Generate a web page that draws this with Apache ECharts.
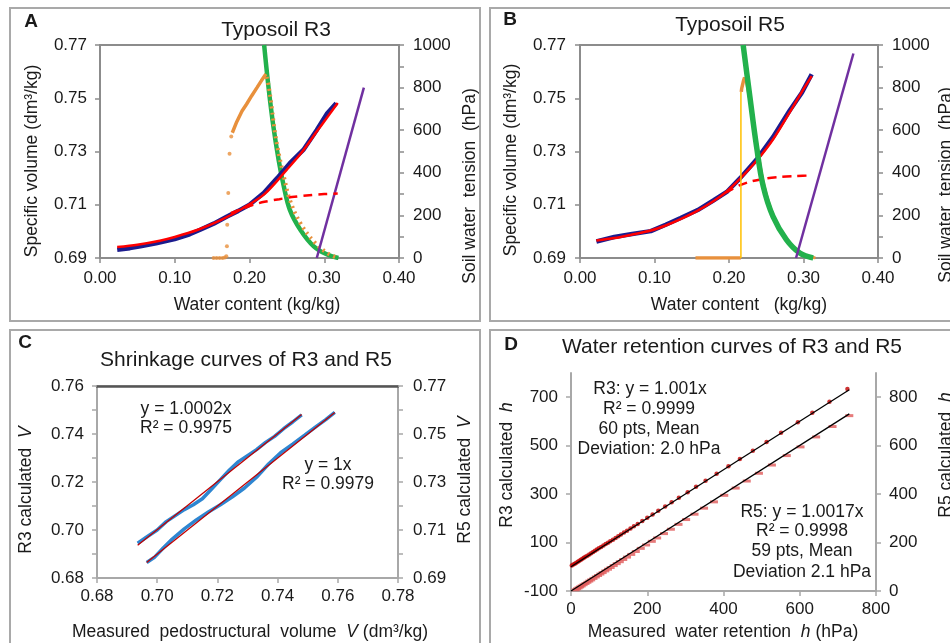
<!DOCTYPE html>
<html><head><meta charset="utf-8">
<script src="https://cdn.jsdelivr.net/npm/echarts@6/dist/echarts.min.js"></script>
<style>html,body{margin:0;padding:0;background:#fff}#c{width:950px;height:643px}</style>
</head><body><div id="c"></div>
<script>
// ---------- Panel A (Typosoil R3) ----------
const aShrinkX    = [0.023, 0.040, 0.054, 0.075, 0.100, 0.120, 0.134, 0.152, 0.170, 0.185, 0.200, 0.219, 0.237, 0.254, 0.272, 0.290, 0.304, 0.316];
const aShrinkMeas = [0.6931, 0.6937, 0.6944, 0.6955, 0.6971, 0.6989, 0.7006, 0.7029, 0.7056, 0.7077, 0.7100, 0.7144, 0.7200, 0.7256, 0.7306, 0.7381, 0.7444, 0.7481];
const aFitX       = [0.023, 0.050, 0.080, 0.100, 0.130, 0.160, 0.190, 0.220, 0.250, 0.270, 0.290, 0.305, 0.318];
const aFitV       = [0.6941, 0.6950, 0.6965, 0.6979, 0.7005, 0.7040, 0.7085, 0.7140, 0.7232, 0.7297, 0.7375, 0.7432, 0.7482];
const aDashX      = [0.175, 0.190, 0.205, 0.220, 0.240, 0.260, 0.280, 0.300, 0.318];
const aDashV      = [0.7068, 0.7085, 0.7100, 0.7111, 0.7121, 0.7130, 0.7136, 0.7140, 0.7142];
const aTensScatX  = [0.152, 0.156, 0.160, 0.164, 0.167, 0.169, 0.1698, 0.1702, 0.1716, 0.1733, 0.1756];
const aTensScatH  = [0, 0, 0, 0, 2, 8, 55, 156, 305, 489, 570];
const aTensUpX    = [0.177, 0.183, 0.190, 0.196, 0.203, 0.210, 0.216, 0.222];
const aTensUpH    = [588, 640, 690, 722, 762, 800, 833, 864];
const aTensDownX  = [0.223, 0.226, 0.230, 0.234, 0.240, 0.246, 0.254, 0.268, 0.286, 0.304, 0.319];
const aTensDownH  = [850, 800, 700, 590, 476, 382, 273, 164, 78, 23, 0];
const aGreenX     = [0.2196, 0.2254, 0.232, 0.239, 0.246, 0.254, 0.268, 0.286, 0.304, 0.319];
const aGreenH     = [1000, 803, 616, 460, 335, 226, 133, 55, 16, 0];
const aPurpleX    = [0.290, 0.353];
const aPurpleH    = [0, 800];

// ---------- Panel B (Typosoil R5) ----------
const bShrinkX    = [0.022, 0.046, 0.070, 0.095, 0.115, 0.135, 0.158, 0.179, 0.197, 0.215, 0.237, 0.259, 0.281, 0.298, 0.311];
const bShrinkMeas = [0.6962, 0.6979, 0.6990, 0.7001, 0.7025, 0.7050, 0.7080, 0.7116, 0.7148, 0.7200, 0.7270, 0.7354, 0.7452, 0.7522, 0.7590];
const bFitV       = [0.6966, 0.6975, 0.6988, 0.7003, 0.7022, 0.7046, 0.7078, 0.7113, 0.7150, 0.7198, 0.7265, 0.7345, 0.7445, 0.7525, 0.7583];
const bDashX      = [0.195, 0.205, 0.215, 0.230, 0.250, 0.270, 0.290, 0.311];
const bDashV      = [0.7145, 0.7160, 0.7174, 0.7188, 0.7199, 0.7205, 0.7208, 0.7210];
const bTensBaseX  = [0.155, 0.170, 0.185, 0.200, 0.216];
const bTensBaseH  = [0, 0, 0, 0, 0];
const bGoldX      = [0.216, 0.216];
const bGoldH      = [0, 780];
const bTensTopX   = [0.2165, 0.2170, 0.2180, 0.2190, 0.2200, 0.2210];
const bTensTopH   = [780, 795, 810, 825, 838, 848];
const bTensDownX  = [0.222, 0.229, 0.238, 0.247, 0.260, 0.278, 0.296, 0.316];
const bTensDownH  = [850, 720, 520, 340, 195, 86, 23, 0];
const bGreenX     = [0.219, 0.228, 0.237, 0.246, 0.259, 0.277, 0.295, 0.313];
const bGreenH     = [1000, 758, 523, 336, 195, 86, 23, 0];
const bPurpleX    = [0.290, 0.367];
const bPurpleH    = [0, 960];

// ---------- Panel C (shrinkage curves) ----------
const cR3Meas  = [0.6935, 0.697, 0.700, 0.703, 0.706, 0.709, 0.712, 0.715, 0.718, 0.721, 0.724, 0.727, 0.730, 0.733, 0.736, 0.739, 0.742, 0.745, 0.748];
const cR3Calc  = [0.6945, 0.6975, 0.7000, 0.7035, 0.7060, 0.7085, 0.7105, 0.7130, 0.7170, 0.7210, 0.7250, 0.7285, 0.7310, 0.7335, 0.7365, 0.7390, 0.7422, 0.7450, 0.7480];
const cR5Meas  = [0.6965, 0.699, 0.702, 0.705, 0.709, 0.713, 0.717, 0.721, 0.725, 0.729, 0.733, 0.737, 0.741, 0.745, 0.749, 0.753, 0.756, 0.759];
const cR5Calc  = [0.6965, 0.6985, 0.7025, 0.7062, 0.7105, 0.7142, 0.7175, 0.7205, 0.7238, 0.7275, 0.7320, 0.7375, 0.7422, 0.7458, 0.7495, 0.7533, 0.7560, 0.7590];
const cR3TrendX = [0.6935, 0.748];
const cR3TrendY = [0.6936, 0.7481];
const cR5TrendX = [0.6965, 0.759];
const cR5TrendY = [0.6965, 0.759];

// ---------- Panel D (water retention curves) ----------
const dR3Meas = [2, 6, 10, 14, 18, 22, 26, 30, 34, 38, 43, 48, 53, 58, 63, 68, 73, 79, 85, 91, 97, 103, 110, 117, 124, 131, 139, 147, 156, 165, 175, 187, 200, 214, 229, 247, 264, 283, 306, 328, 353, 382, 413, 443, 477, 513, 551, 595, 633, 678, 725];
const dR3Calc = [5, 9, 13, 17, 21, 25, 29, 33, 37, 41, 46, 51, 56, 61, 66, 71, 76, 82, 88, 94, 99, 105, 112, 119, 126, 133, 141, 149, 158, 167, 177, 189, 202, 216, 231, 249, 266, 285, 308, 330, 355, 384, 415, 445, 479, 515, 553, 597, 636, 681, 734];
const dR5Meas = [12, 16, 20, 24, 28, 33, 38, 43, 48, 53, 59, 65, 71, 77, 83, 90, 97, 104, 112, 120, 128, 137, 147, 158, 170, 183, 197, 212, 226, 244, 262, 282, 302, 324, 349, 375, 402, 432, 461, 493, 527, 566, 602, 643, 686, 730];
const dR5Calc = [5, 9, 13, 17, 21, 26, 31, 36, 41, 46, 52, 58, 64, 70, 76, 83, 90, 97, 105, 113, 121, 130, 140, 151, 163, 176, 190, 205, 219, 237, 255, 275, 295, 317, 342, 368, 395, 425, 454, 486, 520, 559, 595, 636, 679, 724];
const dTrendX  = [0, 730];
const dR3Trend = [0, 730.7];
const dR5Trend = [0, 731.2];

// ---------- tick label sets ----------
const dLeftTicks  = [-100, 100, 300, 500, 700];
const dRightTicks = [0, 200, 400, 600, 800];

// ================= build =================
const FONT = 'Liberation Sans';
const AX = '#8c8c8c';
const TXT = '#1a1a1a';
const zip = (xs, ys) => xs.map((x, i) => [x, ys[i]]);

function axis(o) {
  const a = {
    type: 'value', gridIndex: o.grid, min: o.min, max: o.max, interval: o.interval,
    position: o.position,
    axisLine: { show: true, onZero: false, lineStyle: { color: o.lineColor || AX, width: o.lineWidth || 2 } },
    axisTick: { show: true, length: 5, lineStyle: { color: o.lineColor || AX, width: 1.5 } },
    minorTick: { show: !!o.minor, splitNumber: 2, length: 5, lineStyle: { color: o.lineColor || AX, width: 1.5 } },
    axisLabel: { show: o.labels !== false, color: TXT, fontSize: 17, fontFamily: FONT, margin: o.margin || 12,
                 formatter: o.fmt || (v => String(v)) },
    splitLine: { show: false }
  };
  if (o.custom) {
    a.axisLabel.customValues = o.custom;
    a.axisTick.customValues = o.custom;
  }
  return a;
}

function line(xi, yi, data, color, width, extra) {
  return Object.assign({
    type: 'line', xAxisIndex: xi, yAxisIndex: yi, data: data, showSymbol: false, symbol: 'none',
    lineStyle: { color: color, width: width }, itemStyle: { color: color }, animation: false, z: 3
  }, extra || {});
}
function scat(xi, yi, data, color, size, extra) {
  return Object.assign({
    type: 'scatter', xAxisIndex: xi, yAxisIndex: yi, data: data, symbol: 'circle', symbolSize: size,
    itemStyle: { color: color }, animation: false, z: 4
  }, extra || {});
}

function txt(x, y, text, opt) {
  opt = opt || {};
  return {
    type: 'text', x: x, y: y, rotation: opt.rot || 0, z: 100,
    style: Object.assign({
      text: text, fill: TXT, fontSize: opt.size || 17.5, fontFamily: FONT, fontWeight: opt.bold ? 'bold' : 'normal',
      align: opt.align || 'center', verticalAlign: 'middle', textAlign: opt.align || 'center', textVerticalAlign: 'middle'
    }, opt.rich ? { rich: opt.rich } : {})
  };
}
const ital = { i: { fontStyle: 'italic', fontSize: 17.5, fontFamily: FONT, fill: TXT } };
function box(x, y, w, h) {
  return { type: 'rect', shape: { x: x, y: y, width: w, height: h }, z: 0,
           style: { fill: 'none', stroke: '#a9a9a9', lineWidth: 2 } };
}

const f2 = v => v.toFixed(2);
const BLUE = '#1c1c8e', RED = '#ff0000', ORANGE = '#e8903c', GREEN = '#22b14c', PURPLE = '#7030a0', GOLD = '#ffc000';

const option = {
  animation: false,
  backgroundColor: '#ffffff',
  textStyle: { fontFamily: FONT },
  grid: [
    { left: 100, top: 45, width: 299, height: 213, show: true, borderColor: AX, borderWidth: 2, backgroundColor: 'transparent' },
    { left: 580, top: 45, width: 298, height: 213, show: true, borderColor: AX, borderWidth: 2, backgroundColor: 'transparent' },
    { left: 97, top: 386, width: 301, height: 192, show: true, borderColor: '#a8a8a8', borderWidth: 1.5, backgroundColor: 'transparent' },
    { left: 571, top: 373, width: 305, height: 218 }
  ],
  xAxis: [
    axis({ grid: 0, min: 0, max: 0.4, interval: 0.1, position: 'bottom', fmt: f2, margin: 12 }),
    axis({ grid: 1, min: 0, max: 0.4, interval: 0.1, position: 'bottom', fmt: f2, margin: 12 }),
    axis({ grid: 2, min: 0.68, max: 0.78, interval: 0.02, position: 'bottom', fmt: f2, margin: 10, lineColor: '#a8a8a8' }),
    axis({ grid: 3, min: 0, max: 800, interval: 200, position: 'bottom', margin: 10, lineColor: '#a8a8a8' }),
    Object.assign(axis({ grid: 2, min: 0.68, max: 0.78, interval: 0.02, position: 'top', labels: false, lineColor: '#555555', lineWidth: 2.5 }),
                  { axisTick: { show: false } })
  ],
  yAxis: [
    axis({ grid: 0, min: 0.69, max: 0.77, interval: 0.02, position: 'left', fmt: f2, margin: 13 }),
    axis({ grid: 0, min: 0, max: 1000, interval: 200, position: 'right', minor: true, margin: 14 }),
    axis({ grid: 1, min: 0.69, max: 0.77, interval: 0.02, position: 'left', fmt: f2, margin: 14 }),
    axis({ grid: 1, min: 0, max: 1000, interval: 200, position: 'right', minor: true, margin: 14 }),
    axis({ grid: 2, min: 0.68, max: 0.76, interval: 0.02, position: 'left', fmt: f2, minor: true, margin: 13, lineColor: '#a8a8a8' }),
    axis({ grid: 2, min: 0.69, max: 0.77, interval: 0.02, position: 'right', fmt: f2, minor: true, margin: 15, lineColor: '#a8a8a8' }),
    axis({ grid: 3, min: -100, max: 800, interval: 200, position: 'left', custom: dLeftTicks, margin: 13, lineColor: '#a8a8a8' }),
    axis({ grid: 3, min: 0, max: 900, interval: 200, position: 'right', custom: dRightTicks, margin: 13, lineColor: '#a8a8a8' })
  ],
  series: [
    // Panel A
    line(0, 1, zip(aGreenX, aGreenH), GREEN, 4.5, { smooth: 0.4, z: 2 }),
    line(0, 1, zip(aTensDownX, aTensDownH), ORANGE, 4, { smooth: 0.4, lineStyle: { color: ORANGE, width: 4, type: [2, 4] }, z: 3 }),
    line(0, 1, zip(aTensUpX, aTensUpH), ORANGE, 3.5, { z: 3 }),
    scat(0, 1, zip(aTensScatX, aTensScatH), ORANGE, 4),
    line(0, 1, zip(aPurpleX, aPurpleH), PURPLE, 2.5),
    line(0, 0, zip(aShrinkX, aShrinkMeas), BLUE, 4.5, { z: 5 }),
    line(0, 0, zip(aFitX, aFitV), RED, 2.5, { smooth: 0.3, z: 6 }),
    line(0, 0, zip(aDashX, aDashV), RED, 2.5, { smooth: 0.3, lineStyle: { color: RED, width: 2.5, type: [9, 6] }, z: 6 }),
    // Panel B
    line(1, 2, zip(bShrinkX, bShrinkMeas), BLUE, 4.5, { z: 3 }),
    line(1, 2, zip(bShrinkX, bFitV), RED, 2.5, { smooth: 0.3, z: 4 }),
    line(1, 2, zip(bDashX, bDashV), RED, 2.5, { smooth: 0.3, lineStyle: { color: RED, width: 2.5, type: [9, 6] }, z: 4 }),
    line(1, 3, zip(bTensDownX, bTensDownH), ORANGE, 3, { smooth: 0.4, z: 4 }),
    line(1, 3, zip(bTensBaseX, bTensBaseH), ORANGE, 3.5, { z: 5 }),
    line(1, 3, zip(bGoldX, bGoldH), GOLD, 1.5, { z: 5 }),
    line(1, 3, zip(bTensTopX, bTensTopH), ORANGE, 3.5, { z: 5 }),
    line(1, 3, zip(bGreenX, bGreenH), GREEN, 5.5, { smooth: 0.4, z: 6 }),
    line(1, 3, zip(bPurpleX, bPurpleH), PURPLE, 2.5, { z: 6 }),
    // Panel C
    line(2, 4, zip(cR3Meas, cR3Calc), '#2e86d1', 3.5),
    line(2, 5, zip(cR5Meas, cR5Calc), '#2e86d1', 3.5),
    line(2, 4, zip(cR3TrendX, cR3TrendY), '#c00000', 1.3, { z: 5 }),
    line(2, 5, zip(cR5TrendX, cR5TrendY), '#c00000', 1.3, { z: 5 }),
    // Panel D
    line(3, 6, zip(dTrendX, dR3Trend), '#000000', 1.3, { z: 5 }),
    line(3, 7, zip(dTrendX, dR5Trend), '#000000', 1.3, { z: 5 }),
    scat(3, 6, zip(dR3Meas, dR3Calc), '#c00000', 4.5),
    scat(3, 7, zip(dR5Meas, dR5Calc), '#e05a5a', [8, 3], { symbol: 'rect' })
  ],
  graphic: [
    box(10, 8, 470, 313), box(490, 8, 480, 313), box(10, 330, 470, 330), box(490, 330, 480, 330),
    txt(31, 22, 'A', { bold: true, size: 19 }),
    txt(510, 20, 'B', { bold: true, size: 19 }),
    txt(25, 343, 'C', { bold: true, size: 19 }),
    txt(511, 345, 'D', { bold: true, size: 19 }),
    // titles
    txt(276, 30, 'Typosoil R3', { size: 21 }),
    txt(730, 25, 'Typosoil R5', { size: 21 }),
    txt(246, 360, 'Shrinkage curves of R3 and R5', { size: 21 }),
    txt(732, 347, 'Water retention curves of R3 and R5', { size: 21 }),
    // axis names A
    txt(257, 305, 'Water content (kg/kg)'),
    txt(32, 161, 'Specific volume (dm³/kg)', { rot: Math.PI / 2 }),
    txt(470, 186, 'Soil water  tension  (hPa)', { rot: Math.PI / 2 }),
    // axis names B
    txt(739, 305, 'Water content   (kg/kg)'),
    txt(511, 160, 'Specific volume (dm³/kg)', { rot: Math.PI / 2 }),
    txt(946, 185, 'Soil water  tension  (hPa)', { rot: Math.PI / 2 }),
    // axis names C
    txt(250, 632, 'Measured  pedostructural  volume  {i|V} (dm³/kg)', { rich: ital }),
    txt(26, 490, 'R3 calculated  {i|V}', { rot: Math.PI / 2, rich: ital }),
    txt(465, 480, 'R5 calculated  {i|V}', { rot: Math.PI / 2, rich: ital }),
    // axis names D
    txt(723, 632, 'Measured  water retention  {i|h} (hPa)', { rich: ital }),
    txt(507, 465, 'R3 calculated  {i|h}', { rot: Math.PI / 2, rich: ital }),
    txt(946, 455, 'R5 calculated  {i|h}', { rot: Math.PI / 2, rich: ital }),
    // annotations C
    txt(186, 409, 'y = 1.0002x', { size: 17.5 }),
    txt(186, 428, 'R² = 0.9975', { size: 17.5 }),
    txt(328, 465, 'y = 1x', { size: 17.5 }),
    txt(328, 484, 'R² = 0.9979', { size: 17.5 }),
    // annotations D
    txt(650, 389, 'R3: y = 1.001x', { size: 17.5 }),
    txt(649, 409, 'R² = 0.9999', { size: 17.5 }),
    txt(649, 429, '60 pts, Mean', { size: 17.5 }),
    txt(649, 449, 'Deviation: 2.0 hPa', { size: 17.5 }),
    txt(802, 512, 'R5: y = 1.0017x', { size: 17.5 }),
    txt(802, 531, 'R² = 0.9998', { size: 17.5 }),
    txt(802, 551, '59 pts, Mean', { size: 17.5 }),
    txt(802, 572, 'Deviation 2.1 hPa', { size: 17.5 })
  ]
};

const chart = echarts.init(document.getElementById('c'), null, { renderer: 'canvas' });
chart.setOption(option);
</script>
</body></html>
